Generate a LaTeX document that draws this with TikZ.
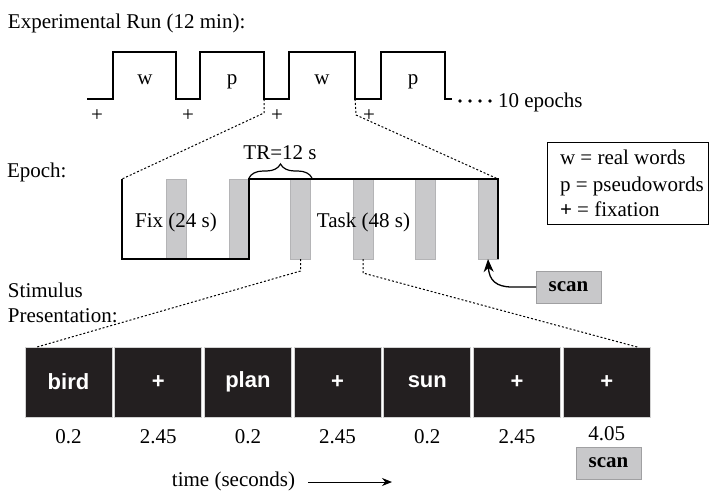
\documentclass[tikz,border=0pt]{standalone}
\usepackage{fontspec}
\setmainfont{Liberation Serif}
\newfontfamily\stimfont{Liberation Sans}
\usetikzlibrary{arrows.meta,decorations.pathreplacing}
\definecolor{bargray}{HTML}{C9C9CB}
\definecolor{baredge}{HTML}{B4B4B6}
\definecolor{stimblack}{HTML}{231F20}
\definecolor{scangray}{HTML}{C8C8CA}
\definecolor{scanedge}{HTML}{A0A0A2}
\begin{document}
\begin{tikzpicture}[x=1pt,y=-1pt,
  every node/.style={inner sep=0pt,outer sep=0pt,font=\fontsize{21}{25}\selectfont},
  lbl/.style={anchor=base west},
  ctr/.style={anchor=base},
  bar/.style={fill=bargray,draw=baredge,line width=0.6pt,minimum width=20pt,minimum height=80pt},
  stim/.style={fill=stimblack,draw=gray!35,line width=0.8pt,minimum width=87pt,minimum height=70pt,
    text=white,font=\stimfont\bfseries\fontsize{22}{26}\selectfont},
  scanbox/.style={fill=scangray,draw=scanedge,line width=0.8pt,minimum width=65pt,minimum height=32pt,
    font=\bfseries\fontsize{21}{25}\selectfont},
  dots/.style={line width=1pt,dash pattern=on 2pt off 2pt},
  wave/.style={line width=1.3pt},
  outline/.style={line width=1.6pt}]
\useasboundingbox (0,0) rectangle (709,490);

% ---------- experimental run ----------
\node[lbl] (runlbl) at (8,28) {Experimental Run (12 min):};
\draw[wave] (87,99) -- (113,99) -- (113,52) -- (176,52) -- (176,99) -- (200,99) -- (200,52)
  -- (264,52) -- (264,99) -- (289,99) -- (289,52) -- (355,52) -- (355,99) -- (381,99)
  -- (381,52) -- (445,52) -- (445,99) -- (452,99);
\coordinate (wa) at (264,99);
\coordinate (wb) at (355,99);
\node[ctr] (w1) at (145,84) {w};
\node[ctr] (p1) at (232,84) {p};
\node[ctr] (w2) at (322,84) {w};
\node[ctr] (p2) at (413,84) {p};
\node[ctr] (f1) at (97,121) {+};
\node[ctr] (f2) at (188,121) {+};
\node[ctr] (f3) at (277,121) {+};
\node[ctr] (f4) at (369,121) {+};
\foreach \x in {460,470,480,490} \fill (\x,101) circle (1.8pt);
\node[lbl] (ep10) at (498,107) {10 epochs};

% ---------- legend ----------
\node[draw,line width=1pt,minimum width=161pt,minimum height=82pt,anchor=north west] (legend) at (547,142) {};
\node[lbl] (lg1) at (560,164) {w = real words};
\node[lbl] (lg2) at (560,191) {p = pseudowords};
\node[lbl] (lg3) at (560,216) {\textbf{+} = fixation};

% ---------- epoch ----------
\node[lbl] (epochlbl) at (7,177) {Epoch:};
\node[bar] (b1) at (176,219) {};
\node[bar] (b2) at (239,219) {};
\node[bar] (b3) at (300.5,219) {};
\node[bar] (b4) at (363,219) {};
\node[bar] (b5) at (425,219) {};
\node[bar] (b6) at (488,219) {};
\coordinate (ea) at (122,179);
\coordinate (eb) at (498,179);
\draw[outline] (ea) -- (122,259) -- (249,259) -- (249,179) -- (eb) -- (498,259);
\node[ctr] (fix) at (176,227) {Fix (24 s)};
\node[ctr] (task) at (363.5,227) {Task (48 s)};
\draw[line width=1.2pt,decorate,decoration={brace,amplitude=14pt}] (249,178) -- (312,178);
\node[ctr] (tr) at (280,159) {TR=12 s};

\draw[dots] (wa) -- ++(0,14) -- (ea);
\draw[dots] (wb) -- ++(1,16) -- (eb);

% ---------- scan (upper) ----------
\node[scanbox] (scan1) at (568.5,287) {scan};
\draw[line width=1.3pt,-{Stealth[length=13pt,width=10pt,inset=4pt]}] (scan1.west) -- (512,287)
  .. controls (496,287) and (489,280) .. (b6.south);

% ---------- stimulus presentation ----------
\node[lbl] (stimlbl1) at (8,297) {Stimulus};
\node[lbl] (stimlbl2) at (8,322) {Presentation:};
\node[stim] (s1) at (68.5,382) {bird};
\node[stim] (s2) at (158.2,382) {+};
\node[stim] (s3) at (247.9,382) {plan};
\node[stim] (s4) at (337.6,382) {+};
\node[stim] (s5) at (427.3,382) {sun};
\node[stim] (s6) at (517,382) {+};
\node[stim] (s7) at (606.7,382) {+};
\node[ctr] (t1) at (68.5,443) {0.2};
\node[ctr] (t2) at (158.2,443) {2.45};
\node[ctr] (t3) at (247.9,443) {0.2};
\node[ctr] (t4) at (337.6,443) {2.45};
\node[ctr] (t5) at (427.3,443) {0.2};
\node[ctr] (t6) at (517,443) {2.45};
\node[ctr] (t7) at (606.7,440) {4.05};
\node[scanbox] (scan2) at (608.5,463) {scan};

\draw[dots] (b3.south) -- ++(0,12) -- ([xshift=12pt]s1.north west);
\draw[dots] (b4.south) -- ++(0,14) -- ([xshift=-13pt]s7.north east);

\node[ctr] (timelbl) at (233.5,486) {time (seconds)};
\coordinate (ta) at (308,482);
\coordinate (tb) at (392,482);
\draw[line width=1pt,-{Stealth[length=10pt,width=8pt]}] (ta) -- (tb);
\end{tikzpicture}
\end{document}
